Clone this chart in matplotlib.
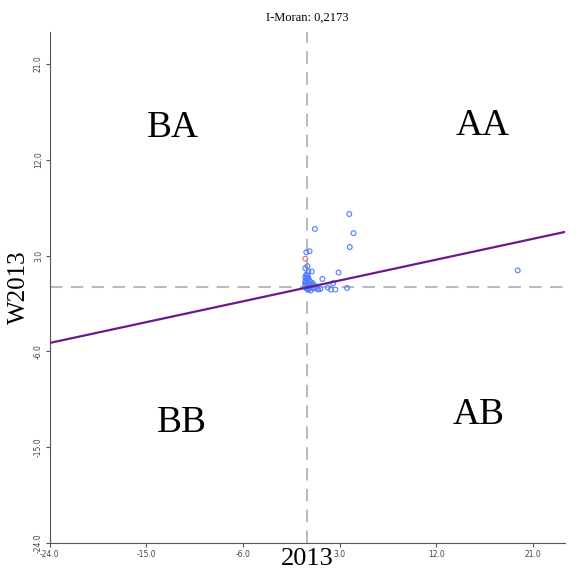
import numpy as np
import matplotlib.pyplot as plt

# Moran scatter: standardized 2013 values vs spatial lag W2013
x = [3.9, 0.7, 4.3, 3.95, 0.2, -0.1, 0.0, -0.2, 0.4, 2.9, 1.4, 2.4, 1.9, 1.2, 2.2,
     2.6, 3.7, 0.9, 19.6, -0.1, 0.1, 0.3, 0.5, 0.6, -0.2, 0.0, 0.2, 0.8, 1.0, 0.1,
     -0.1, 0.3, 0.0, 0.5, -0.2, -0.1, 0.0, 0.1, -0.2, 0.2, -0.1, 0.0, 0.3, 0.1,
     -0.2, 0.0, 0.4, 0.6, 0.2, -0.1]
y = [6.9, 5.5, 5.1, 3.8, 3.4, 3.3, 2.0, 1.8, 1.5, 1.4, 0.8, 0.4, 0.0, -0.15, -0.2,
     -0.2, -0.05, -0.1, 1.6, 1.2, 0.9, 0.5, 0.2, 0.0, 0.6, 0.3, -0.1, 0.1, -0.2, 1.5,
     0.9, -0.3, 0.1, 0.4, 0.2, 0.0, 0.7, 0.2, 1.0, 0.0, 0.5, 1.1, 0.1, -0.2,
     0.4, 0.8, 0.3, -0.1, 0.6, -0.1]
red_x = [-0.2]
red_y = [2.7]
moran_i = 0.2173
ticks = [-24.0, -15.0, -6.0, 3.0, 12.0, 21.0]
quadrants = [('BA', -12.5, 15.0), ('AA', 16.3, 15.2), ('BB', -11.7, -12.7), ('AB', 16.0, -12.0)]

fig = plt.figure(figsize=(5.8, 5.72), dpi=100)
ax = fig.add_axes([0.086, 0.051, 0.888, 0.893])

ax.axhline(0, color='#bbbbbb', lw=1.5, ls=(0, (6, 4)), zorder=1)
ax.axvline(0, color='#bbbbbb', lw=1.5, ls=(0, (6, 4)), zorder=1)

xs = np.array([-24, 24])
ax.plot(xs, moran_i * xs, color='#6a1b8a', lw=1.6, zorder=3)

ax.scatter(x, y, s=12, facecolors='none', edgecolors='#4f7dff', linewidths=0.8, zorder=2)
ax.scatter(red_x, red_y, s=12, facecolors='none', edgecolors='#e07070', linewidths=0.8, zorder=2)

for lab, qx, qy in quadrants:
    ax.text(qx, qy, lab, fontsize=27, family='Liberation Serif', ha='center', va='center')

ax.set_xlim(-24, 24)
ax.set_ylim(-24, 24)
ax.set_xticks(ticks)
ax.set_yticks(ticks)
ax.set_xticklabels([f'{t:.1f}' for t in ticks], fontsize=5.5, color='#444444')
ax.set_yticklabels([f'{t:.1f}' for t in ticks], fontsize=5.5, color='#444444', rotation=90, va='center')
ax.tick_params(length=3, color='#555555', pad=2)
for side in ['top', 'right']:
    ax.spines[side].set_visible(False)
for side in ['left', 'bottom']:
    ax.spines[side].set_color('#555555')

ax.set_xlabel('2013', fontsize=19, family='Liberation Serif', labelpad=-8)
ax.set_ylabel('W2013', fontsize=18, family='Liberation Serif', labelpad=3)
ax.set_title('I-Moran: 0,2173', fontsize=9, family='Liberation Serif', pad=8)

plt.savefig('out.png', dpi=100)
